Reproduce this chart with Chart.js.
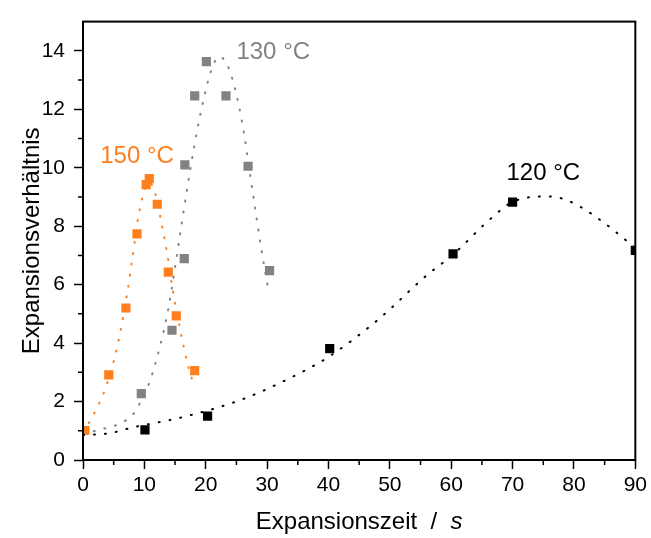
<!DOCTYPE html>
<html>
<head>
<meta charset="utf-8">
<script src="https://cdn.jsdelivr.net/npm/chart.js@4"></script>
<style>
  html, body { margin: 0; padding: 0; background: #fff; }
  #wrap { width: 651px; height: 538px; }
</style>
</head>
<body>
<div id="wrap"><canvas id="chart" width="651" height="538"></canvas></div>
<script>
// Messpunkte (Expansionszeit in s, Expansionsverhältnis)
const t150 = [0.3, 4.2, 7.0, 8.8, 10.3, 10.8, 12.1, 13.9, 15.2, 18.2];
const v150 = [1.01, 2.91, 5.2, 7.74, 9.42, 9.63, 8.75, 6.43, 4.93, 3.06];
const t130 = [9.5, 14.5, 16.5, 16.6, 18.2, 20.1, 23.3, 26.9, 30.4];
const v130 = [2.27, 4.44, 6.89, 10.1, 12.46, 13.63, 12.46, 10.05, 6.48];
const t120 = [10.1, 20.3, 40.2, 60.3, 70.0, 90.0];
const v120 = [1.03, 1.5, 3.81, 7.05, 8.82, 7.17];

// Fitkurven
const fitT150 = [0, 1.4, 2.3, 3.2, 5.1, 6.0, 7.1, 8.0, 9.2, 10.8, 11.8, 12.9, 13.7, 14.6, 15.8, 17.0, 18.2];
const fitV150 = [0.95, 1.42, 1.8, 2.19, 3.45, 4.3, 5.57, 6.84, 8.53, 9.5, 9.1, 7.98, 7.1, 5.85, 4.5, 3.32, 2.47];
const fitT130 = [0, 3, 6, 8.2, 9.4, 10.9, 12.6, 13.9, 15.8, 16.9, 18.1, 19.2, 20.8, 22.2, 23.8, 25.8, 27.7, 29.0, 30.3];
const fitV130 = [0.9, 1.05, 1.25, 1.57, 2.0, 2.7, 3.94, 5.17, 7.7, 9.2, 10.7, 11.9, 13.27, 13.8, 13.38, 11.7, 9.1, 7.3, 5.7];
const fitT120 = [0, 4.4, 8.2, 14.2, 20.3, 26, 29.9, 33.5, 37.1, 40.2, 48.3, 55.9, 60.3, 66.5, 70, 76, 79.8, 85, 90];
const fitV120 = [0.85, 0.92, 1.12, 1.37, 1.69, 2.08, 2.42, 2.78, 3.17, 3.55, 4.84, 6.3, 7.03, 8.27, 8.83, 9.02, 8.8, 8.1, 7.25];

// Achsen
const xTicks = [0, 10, 20, 30, 40, 50, 60, 70, 80, 90];
const xMinor = [5, 15, 25, 35, 45, 55, 65, 75, 85];
const yTicks = [0, 2, 4, 6, 8, 10, 12, 14];
const yMinor = [1, 3, 5, 7, 9, 11, 13];

const orange = '#ff7f1e';
const grau = '#828282';
const FONT = 'Liberation Sans, Arial, sans-serif';

const pts = (xs, ys) => xs.map((v, i) => ({x: v, y: ys[i]}));

function kurve(xs, ys, farbe) {
  return {
    type: 'line', data: pts(xs, ys), borderColor: farbe, borderWidth: 2,
    borderDash: [1, 10], borderCapStyle: 'round', pointRadius: 0,
    tension: 0.4, cubicInterpolationMode: 'monotone', fill: false, clip: 0
  };
}
function punkte(xs, ys, farbe) {
  return {
    type: 'scatter', data: pts(xs, ys), backgroundColor: farbe, borderColor: farbe,
    borderWidth: 0, pointStyle: 'rect', pointRadius: 6.5, showLine: false, clip: 0
  };
}

const extras = {
  id: 'extras',
  afterDraw(chart) {
    const {ctx, chartArea: a, scales: {x, y}} = chart;
    ctx.save();
    // Rahmen
    ctx.strokeStyle = '#000';
    ctx.lineWidth = 2;
    ctx.strokeRect(a.left, a.top, a.right - a.left, a.bottom - a.top);
    // Nebenticks
    ctx.lineWidth = 1.5;
    ctx.beginPath();
    xMinor.forEach(v => {
      const px = x.getPixelForValue(v);
      ctx.moveTo(px, a.bottom); ctx.lineTo(px, a.bottom + 5);
    });
    yMinor.forEach(v => {
      const py = y.getPixelForValue(v);
      ctx.moveTo(a.left, py); ctx.lineTo(a.left - 5, py);
    });
    ctx.stroke();

    // Beschriftungen der Kurven
    ctx.font = '24px ' + FONT;
    ctx.textAlign = 'center';
    ctx.textBaseline = 'middle';
    [['150 °C', 8.8, 10.4, orange], ['130 °C', 31.0, 13.95, grau], ['120 °C', 75.0, 9.82, '#000']]
      .forEach(([txt, tx, ty, c]) => {
        ctx.fillStyle = c;
        ctx.fillText(txt, x.getPixelForValue(tx), y.getPixelForValue(ty));
      });

    // x-Achsentitel mit kursivem s
    const teil1 = 'Expansionszeit  /  ';
    ctx.font = '24px ' + FONT;
    const w1 = ctx.measureText(teil1).width;
    ctx.font = 'italic 24px ' + FONT;
    const w2 = ctx.measureText('s').width;
    const mitte = (a.left + a.right) / 2;
    let start = mitte - (w1 + w2) / 2;
    ctx.fillStyle = '#000';
    ctx.textAlign = 'left';
    ctx.font = '24px ' + FONT;
    ctx.fillText(teil1, start, 522);
    ctx.font = 'italic 24px ' + FONT;
    ctx.fillText('s', start + w1, 522);
    ctx.restore();
  }
};

new Chart(document.getElementById('chart'), {
  data: {
    datasets: [
      kurve(fitT120, fitV120, '#000'),
      kurve(fitT130, fitV130, grau),
      kurve(fitT150, fitV150, orange),
      punkte(t120, v120, '#000'),
      punkte(t130, v130, grau),
      punkte(t150, v150, orange)
    ]
  },
  options: {
    responsive: false,
    animation: false,
    devicePixelRatio: 1,
    layout: { padding: { top: 15, right: 15, left: 0, bottom: 0 } },
    plugins: { legend: { display: false }, tooltip: { enabled: false } },
    scales: {
      x: {
        type: 'linear', min: 0, max: 90,
        afterBuildTicks: s => { s.ticks = xTicks.map(v => ({value: v})); },
        afterFit: s => { s.height = 78; },
        grid: { drawOnChartArea: false, tickLength: 9, tickWidth: 1.5, tickColor: '#000' },
        border: { display: false },
        ticks: { color: '#000', font: { family: FONT, size: 21 }, padding: 4, maxRotation: 0 }
      },
      y: {
        type: 'linear', min: 0, max: 15,
        afterBuildTicks: s => { s.ticks = yTicks.map(v => ({value: v})); },
        afterFit: s => { s.width = 83; },
        grid: { drawOnChartArea: false, tickLength: 9, tickWidth: 1.5, tickColor: '#000' },
        border: { display: false },
        ticks: { color: '#000', font: { family: FONT, size: 21 }, padding: 9 },
        title: {
          display: true, text: 'Expansionsverhältnis', color: '#000',
          font: { family: FONT, size: 24 }, padding: { top: 18, bottom: 0 }
        }
      }
    }
  },
  plugins: [extras]
});
</script>
</body>
</html>
